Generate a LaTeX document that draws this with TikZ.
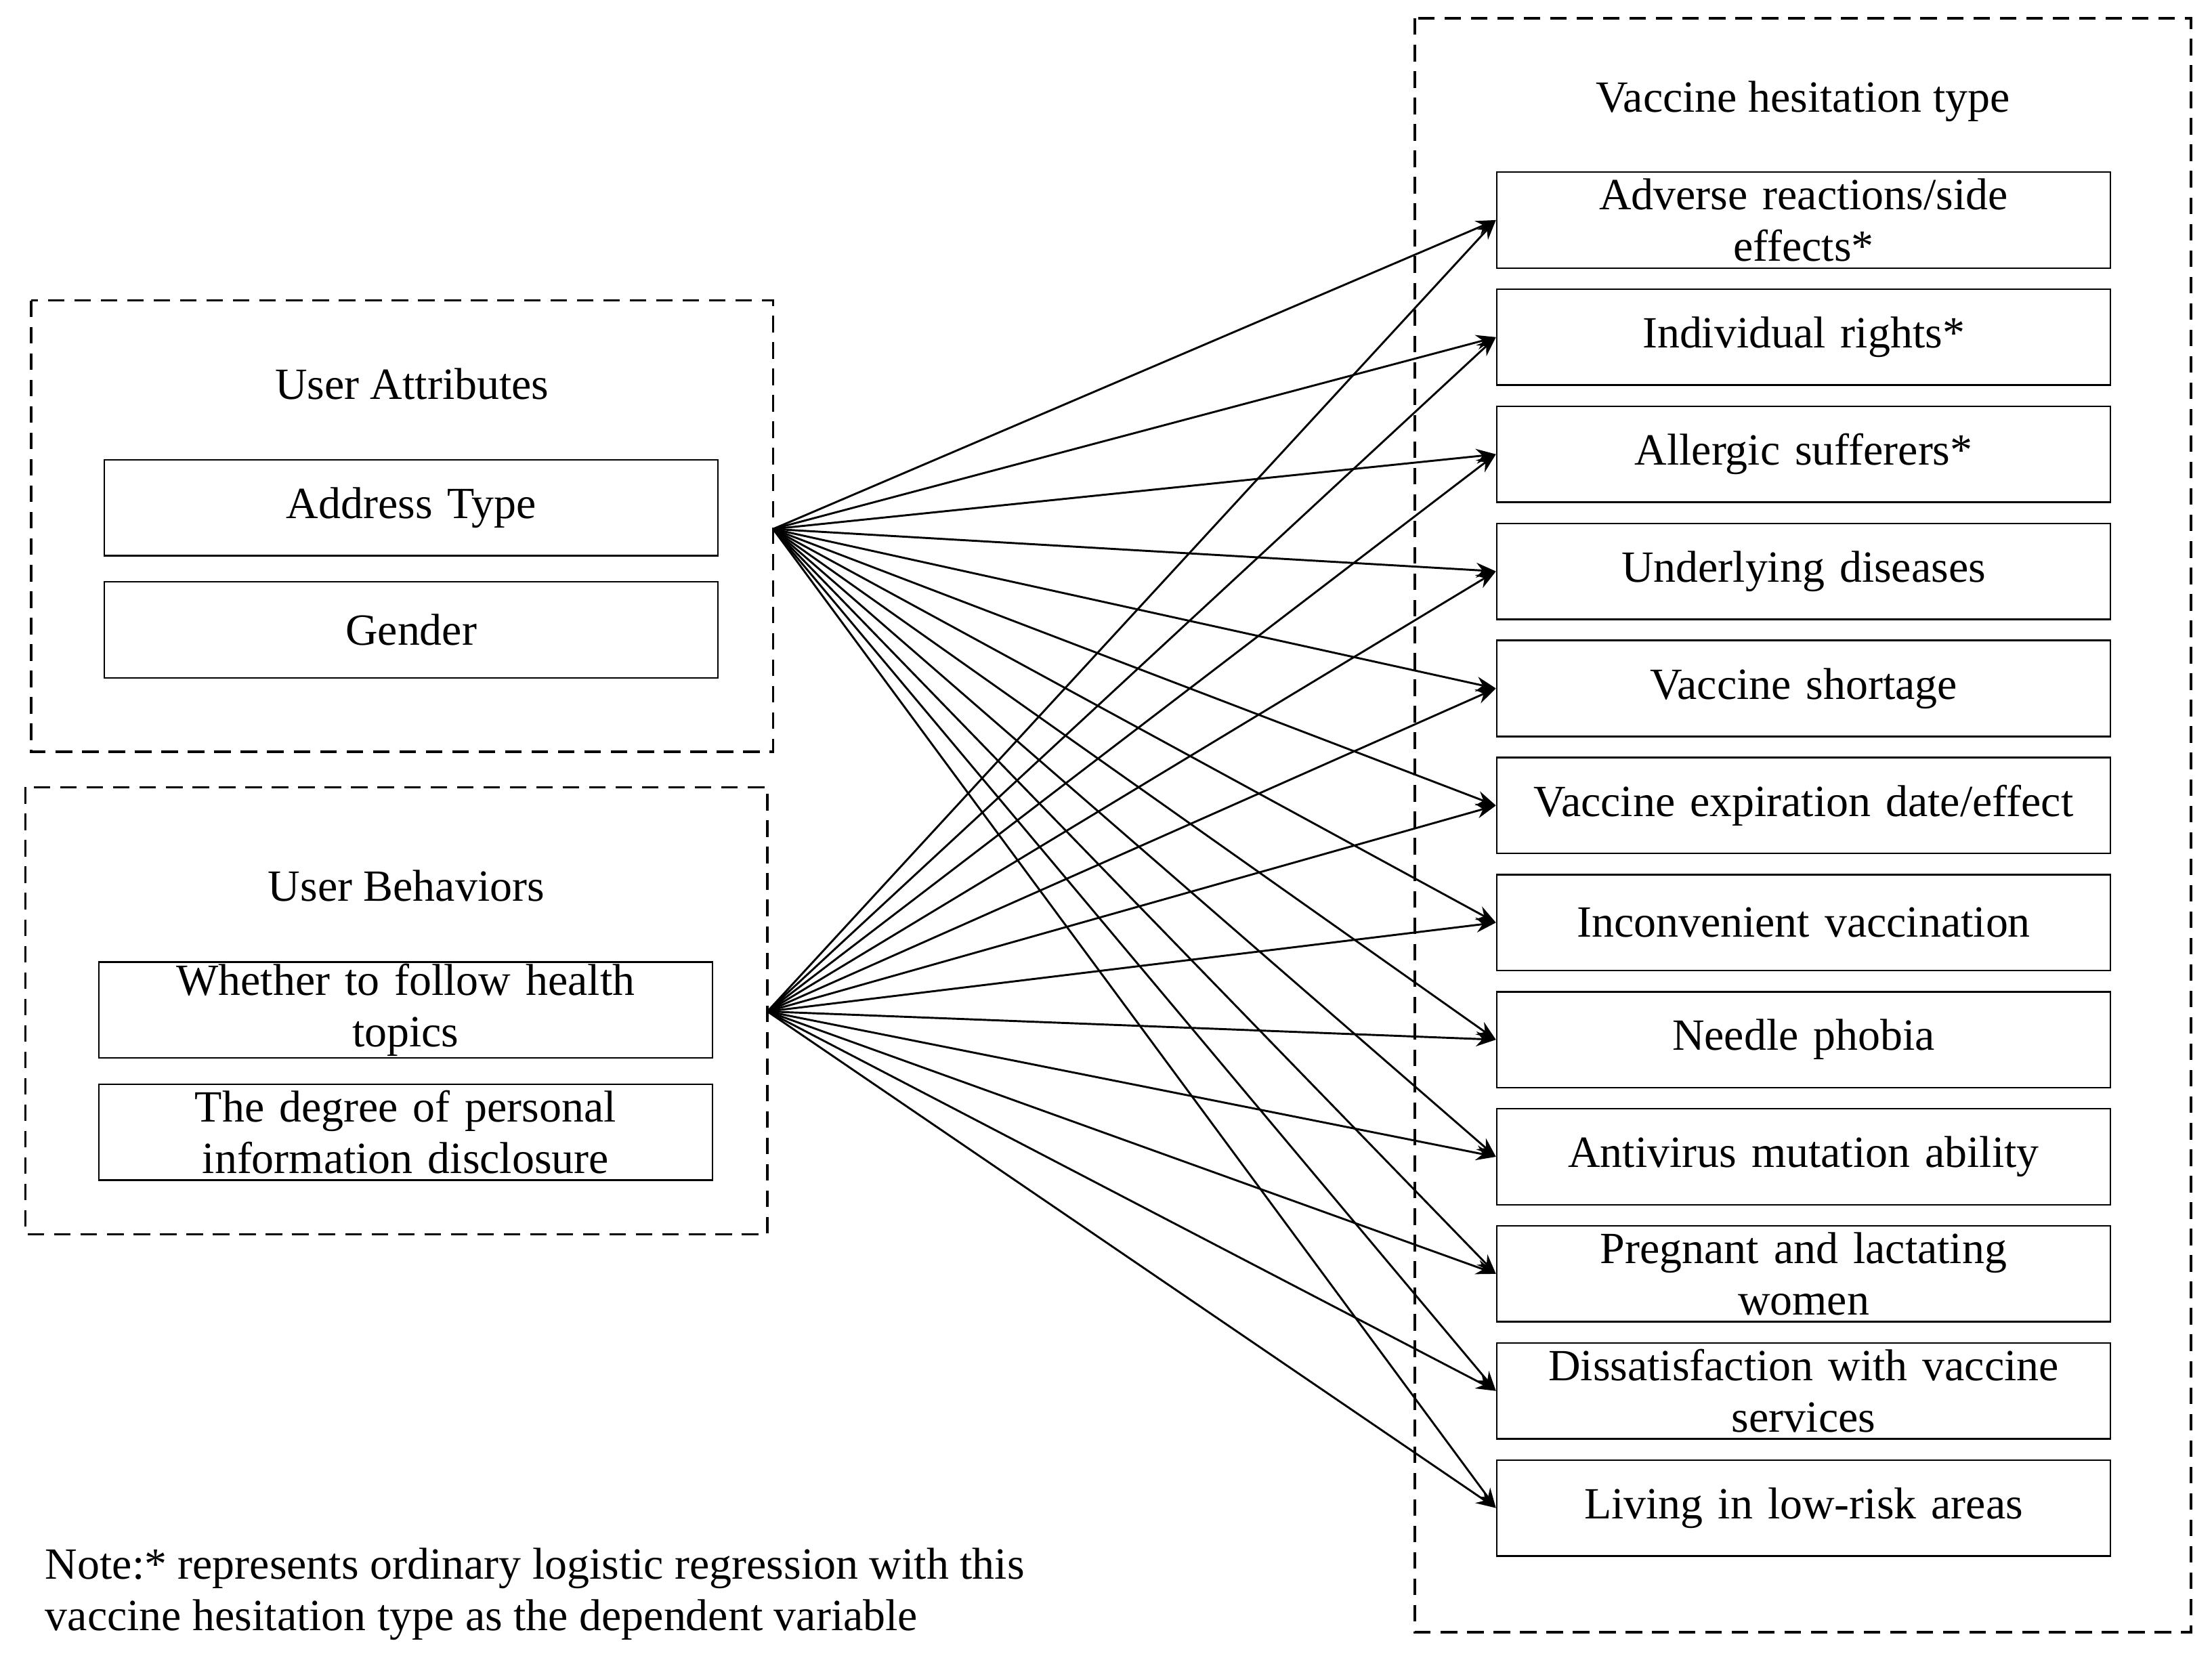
\documentclass[tikz,border=0pt]{standalone}
\usepackage{fontspec}
\setmainfont{Liberation Serif}
\usetikzlibrary{arrows.meta}
\begin{document}
\begin{tikzpicture}[x=0.03cm,y=-0.03cm,
  every node/.style={font=\fontsize{27}{31}\selectfont},
  dbox/.style={draw,dash pattern=on 10pt off 6pt,line width=1.4pt},
  item/.style={draw,line width=1pt,minimum width=13.05cm,minimum height=2.04cm,align=center,text width=12.6cm,inner sep=0pt},
  arr/.style={line width=1.2pt,-{Stealth[length=12pt,width=9pt]}}]
\useasboundingbox (0,0) rectangle (1568,1178);
\draw[dbox] (22,213) rectangle (548,533);
\draw[dbox] (18,558) rectangle (544,875);
\draw[dbox] (1003,13) rectangle (1553,1157);
\node at (292,272) {User Attributes};
\node[item] at (291.5,360) {Address Type};
\node[item] at (291.5,446.5) {Gender};
\node at (288,628) {User Behaviors};
\node[item] at (287.5,716) {Whether to follow health\\ topics};
\node[item] at (287.5,802.5) {The degree of personal\\ information disclosure};
\node at (1278,72) {Vaccine hesitation type};
\coordinate (s1) at (548,375);
\coordinate (s2) at (544,717);
\foreach \t [count=\i] in {{Adverse reactions/side\\ effects*},{Individual rights*},{Allergic sufferers*},{Underlying diseases},{Vaccine shortage},{Vaccine expiration date/effect},{Inconvenient vaccination},{Needle phobia},{Antivirus mutation ability},{Pregnant and lactating\\ women},{Dissatisfaction with vaccine\\ services},{Living in low-risk areas}}{
  \node[item] (r\i) at (1278.5,{156+83*(\i-1)}) {\t};
  \draw[arr] (s1) -- (r\i.west);
  \draw[arr] (s2) -- (r\i.west);
}
\node[anchor=west,align=left] at (28,1130) {Note:* represents ordinary logistic regression with this\\ vaccine hesitation type as the dependent variable};
\end{tikzpicture}
\end{document}
